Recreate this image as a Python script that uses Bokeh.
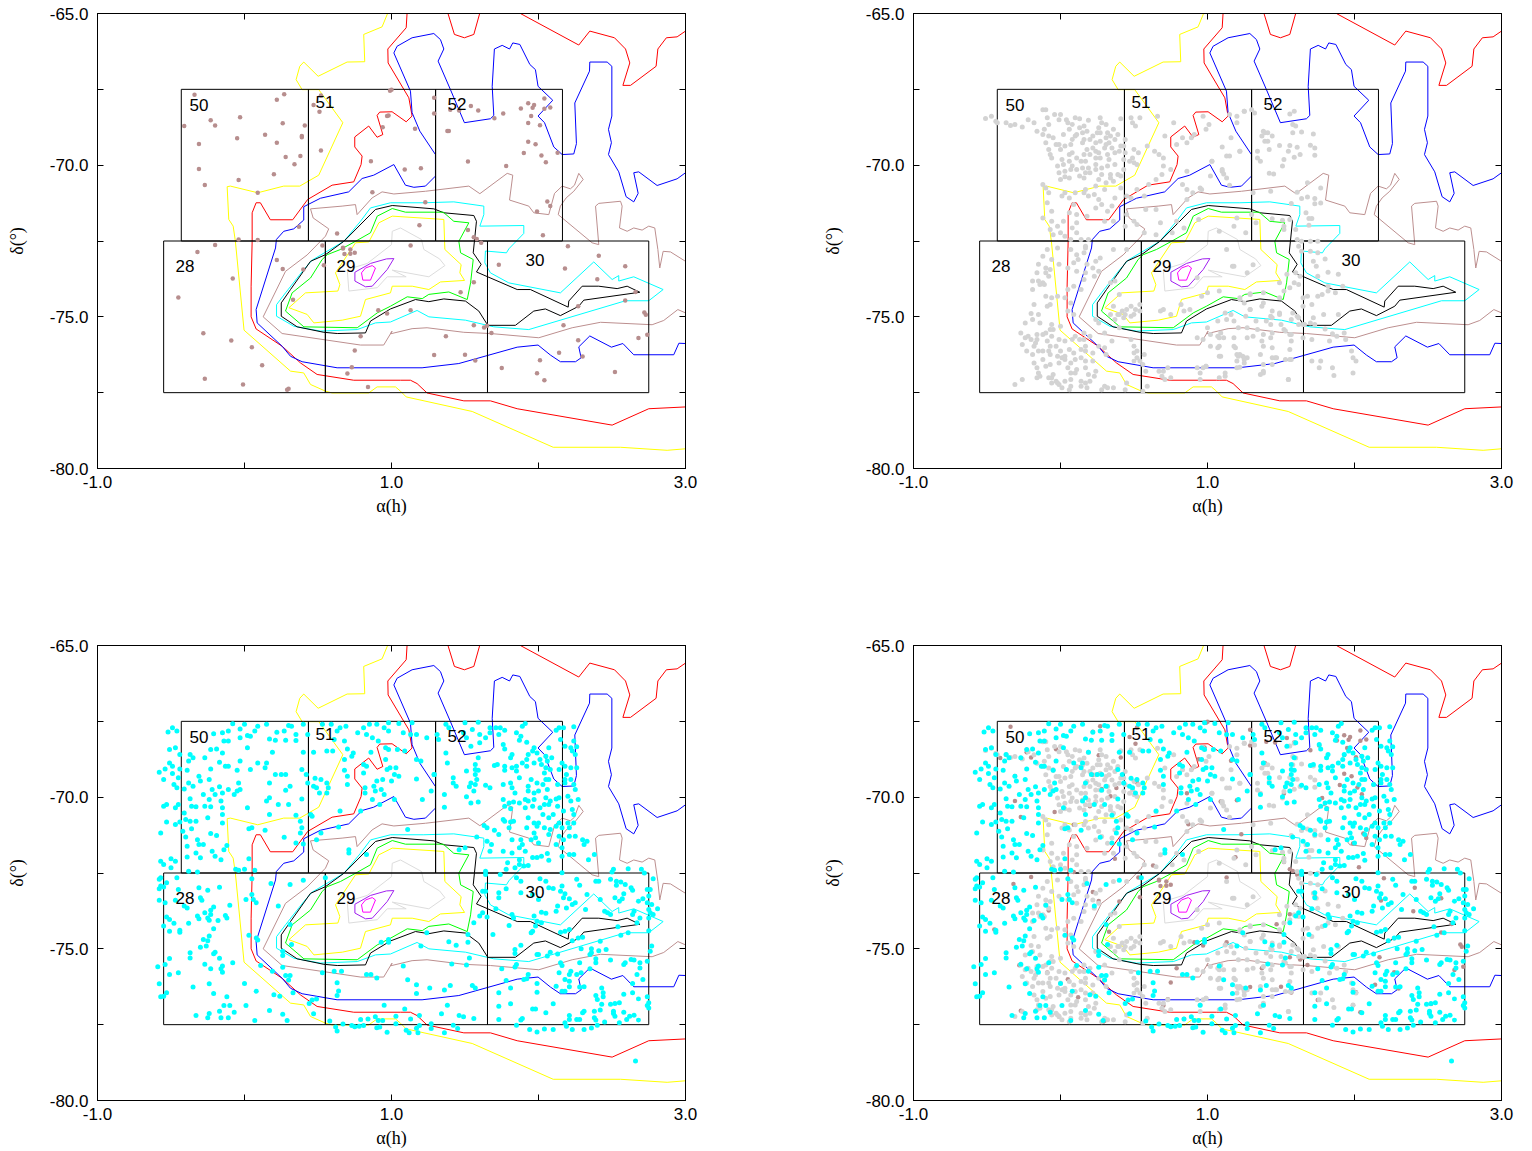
from bokeh.plotting import figure
from bokeh.layouts import column, row
from bokeh.models import Range1d, FixedTicker, LinearAxis, NumeralTickFormatter
from bokeh.core.properties import value
from bokeh.embed import file_html
from bokeh.resources import INLINE

# Contours (alpha hours, delta degrees)
yellow_outer = [(0.975,-64.98),(0.936,-65.44),(0.811,-65.69),(0.818,-66.59),(0.698,-66.60),(0.501,-67.07),(0.403,-66.60),(0.376,-66.74),(0.351,-67.18),(0.392,-67.51),(0.505,-67.51),(0.669,-68.60),(0.505,-70.33),(0.376,-70.69),(0.267,-70.69),(0.090,-70.91),(-0.096,-70.69),(-0.118,-70.71),(-0.107,-71.79),(-0.077,-72.01),(-0.062,-72.51),(-0.003,-75.44),(0.313,-76.79),(0.403,-76.85),(0.449,-77.23),(0.551,-77.45),(0.596,-77.51),(0.845,-77.51),(0.902,-77.31),(1.027,-77.31),(1.061,-77.45),(1.10,-77.64),(1.549,-78.12),(2.10,-79.30),(2.558,-79.30),(2.875,-79.40),(3.0,-79.35)]
red_main = [(1.106,-64.98),(1.10,-65.47),(0.975,-66.17),(0.977,-66.63),(1.118,-67.78),(1.140,-68.38),(1.10,-68.57),(1.004,-68.24),(0.92,-68.25),(0.902,-68.36),(0.941,-68.99),(0.902,-69.08),(0.845,-68.71),(0.750,-69.07),(0.750,-69.40),(0.80,-69.70),(0.793,-69.98),(0.743,-70.55),(0.596,-70.66),(0.430,-71.13),(0.328,-71.80),(0.176,-71.80),(0.108,-71.24),(0.079,-71.24),(0.052,-71.57),(0.052,-72.51),(0.045,-73.99),(0.045,-75.00),(0.079,-75.40),(0.256,-75.97),(0.381,-76.52),(0.494,-76.90),(0.743,-77.09),(1.061,-77.09),(1.129,-77.09),(1.174,-77.20),(1.242,-77.51),(1.492,-77.77),(1.673,-77.77),(1.855,-78.03),(2.501,-78.57),(2.750,-78.03),(3.0,-77.97)]
red_top_mid = [(1.383,-64.98),(1.428,-65.69),(1.496,-65.80),(1.560,-65.69),(1.601,-64.98)]
red_top_right = [(1.877,-65.0),(2.274,-66.04),(2.349,-65.58),(2.517,-65.80),(2.592,-66.17),(2.621,-66.63),(2.574,-67.37),(2.626,-67.37),(2.80,-66.74),(2.812,-66.17),(2.87,-65.80),(2.943,-65.77),(3.0,-65.58)]
blue_main = [(3.0,-75.88),(2.955,-75.87),(2.920,-76.25),(2.648,-76.25),(2.574,-75.88),(2.496,-76.0),(2.349,-75.63),(2.274,-75.99),(2.290,-76.35),(2.252,-76.48),(2.149,-76.48),(2.081,-76.26),(1.997,-75.93),(1.855,-76.0),(1.458,-76.54),(1.208,-76.68),(0.630,-76.68),(0.392,-76.48),(0.313,-76.30),(0.256,-75.97),(0.086,-75.20),(0.079,-74.76),(0.211,-72.73),(0.217,-72.45),(0.267,-72.18),(0.335,-72.10),(0.403,-71.81),(0.403,-71.37),(0.517,-71.09),(0.709,-70.88),(0.80,-70.44),(0.879,-70.33),(1.016,-69.98),(1.095,-70.66),(1.152,-70.73),(1.231,-70.69),(1.299,-70.36),(1.299,-69.65),(1.193,-68.88),(1.140,-68.27),(1.129,-67.56),(1.016,-66.30),(1.038,-66.08),(1.140,-65.80),(1.288,-65.66),(1.333,-65.86),(1.356,-66.17),(1.317,-66.57),(1.401,-67.51),(1.496,-68.60),(1.673,-68.47),(1.696,-68.36),(1.685,-67.40),(1.700,-66.17),(1.753,-66.05),(1.803,-66.17),(1.825,-65.97),(1.873,-66.02),(1.941,-66.68),(1.979,-66.85),(1.997,-67.40),(2.097,-67.86),(1.997,-68.38),(2.041,-68.60),(2.104,-69.40),(2.161,-69.65),(2.240,-69.63),(2.258,-69.29),(2.247,-67.95),(2.347,-66.90),(2.349,-66.60),(2.467,-66.60),(2.499,-66.74),(2.499,-68.38),(2.476,-68.82),(2.496,-69.26),(2.476,-69.65),(2.546,-70.22),(2.596,-71.04),(2.648,-71.21),(2.678,-70.93),(2.648,-70.25),(2.682,-70.22),(2.807,-70.67),(2.943,-70.45),(3.0,-70.25)]
brown_main = [(3.0,-74.87),(2.948,-74.76),(2.852,-75.12),(2.773,-75.26),(2.422,-75.18),(2.229,-75.36),(2.002,-75.69),(1.673,-75.55),(1.492,-75.51),(1.242,-75.36),(1.140,-75.39),(0.993,-75.56),(1.004,-75.47),(0.947,-75.93),(0.789,-75.93),(0.256,-75.55),(0.127,-75.0),(0.279,-73.50),(0.426,-72.96),(0.517,-72.51),(0.551,-72.34),(0.573,-72.10),(0.467,-71.74),(0.449,-71.44),(0.664,-71.35),(0.755,-71.30),(0.766,-71.63),(0.868,-71.08),(0.936,-70.88),(1.016,-70.95),(1.231,-70.86),(1.526,-70.69),(1.601,-70.94),(1.787,-70.27),(1.825,-70.33),(1.803,-71.15),(1.934,-71.35),(1.968,-71.57),(2.070,-71.63),(2.109,-70.93),(2.161,-70.69),(2.217,-70.78),(2.245,-70.66),(2.274,-70.27),(2.304,-70.47),(2.240,-70.86),(2.188,-71.08),(2.149,-71.35),(2.134,-71.63),(2.365,-72.56),(2.410,-72.62),(2.388,-71.35),(2.410,-71.26),(2.558,-71.19),(2.569,-71.35),(2.551,-72.07),(2.603,-72.18),(2.648,-72.07),(2.705,-72.14),(2.750,-72.01),(2.791,-72.07),(2.812,-72.78),(2.825,-73.39),(2.848,-72.84),(2.898,-72.86),(3.0,-73.17)]
cyan_main = [(0.218,-74.98),(0.218,-74.60),(0.279,-74.21),(0.404,-73.44),(0.460,-73.13),(0.676,-72.51),(0.789,-71.85),(0.857,-71.41),(0.993,-71.24),(1.220,-71.24),(1.424,-71.21),(1.628,-71.35),(1.628,-71.63),(1.601,-72.01),(1.900,-71.99),(1.900,-72.25),(1.798,-72.76),(1.782,-72.89),(1.639,-72.83),(1.635,-73.22),(1.673,-73.55),(1.798,-73.88),(2.149,-74.21),(2.376,-73.19),(2.501,-73.77),(2.546,-73.64),(2.546,-73.82),(2.648,-73.68),(2.848,-74.10),(2.750,-74.47),(2.592,-74.47),(1.934,-75.42),(1.696,-75.33),(1.503,-75.11),(1.254,-75.0),(1.174,-74.79),(0.993,-75.17),(0.891,-75.20),(0.767,-75.42),(0.517,-75.47),(0.336,-75.31),(0.218,-74.98)]
black_main = [(0.250,-74.98),(0.250,-74.54),(0.313,-74.10),(0.449,-73.17),(0.551,-72.95),(0.676,-72.51),(0.891,-71.46),(1.005,-71.33),(1.288,-71.44),(1.356,-71.57),(1.560,-71.66),(1.578,-71.85),(1.556,-72.89),(1.610,-73.27),(1.578,-73.52),(1.855,-74.10),(1.945,-74.10),(2.202,-74.68),(2.206,-74.48),(2.297,-73.99),(2.410,-73.99),(2.535,-74.07),(2.603,-73.99),(2.689,-74.19),(2.308,-74.45),(2.274,-74.65),(2.149,-74.96),(2.047,-74.74),(1.968,-74.81),(1.843,-75.28),(1.655,-75.28),(1.594,-74.81),(1.503,-74.48),(1.356,-74.41),(1.254,-74.50),(1.163,-74.43),(0.993,-74.74),(0.857,-75.14),(0.823,-75.53),(0.631,-75.55),(0.540,-75.51),(0.358,-75.33),(0.250,-74.98)]
green_main = [(0.279,-74.81),(0.324,-74.21),(0.449,-73.72),(0.528,-73.11),(0.563,-72.95),(0.653,-72.78),(0.755,-72.51),(0.857,-72.23),(0.903,-71.68),(1.005,-71.43),(1.095,-71.55),(1.352,-71.55),(1.424,-71.85),(1.526,-71.90),(1.458,-72.51),(1.470,-72.89),(1.556,-73.11),(1.538,-73.88),(1.515,-74.43),(1.390,-74.18),(1.254,-74.26),(1.209,-74.40),(1.107,-74.34),(0.993,-74.65),(0.903,-74.87),(0.767,-75.36),(0.404,-75.33),(0.279,-74.81)]
yellow_inner = [(0.302,-74.70),(0.415,-74.21),(0.635,-74.15),(0.649,-73.94),(0.619,-73.55),(0.755,-72.56),(0.846,-72.53),(0.914,-71.90),(1.005,-71.68),(1.356,-71.79),(1.363,-72.78),(1.474,-73.28),(1.465,-73.55),(1.497,-73.80),(1.333,-73.85),(1.254,-74.10),(1.141,-73.99),(1.005,-73.99),(0.993,-74.21),(0.823,-74.43),(0.789,-74.98),(0.665,-75.11),(0.472,-75.20),(0.426,-74.92),(0.302,-74.70)]
grey_inner = [(0.699,-73.44),(0.710,-74.15),(0.903,-74.04),(0.971,-73.68),(1.100,-73.68),(1.005,-73.46),(1.254,-73.68),(1.363,-73.31),(1.327,-73.09),(1.220,-72.78),(1.204,-72.45),(1.061,-72.07),(1.005,-72.18),(1.000,-72.62),(0.835,-73.24),(0.699,-73.44)]
purple_inner = [(0.751,-73.53),(0.751,-73.82),(0.823,-74.01),(0.869,-73.99),(0.971,-73.44),(1.016,-73.08),(0.966,-73.09),(0.857,-73.24),(0.751,-73.53)]
magenta_inner = [(0.796,-73.55),(0.805,-73.79),(0.857,-73.79),(0.891,-73.39),(0.869,-73.31),(0.823,-73.39),(0.796,-73.55)]

contours = [
    (yellow_outer,"#ffff00"),(red_main,"#ff0000"),(red_top_mid,"#ff0000"),(red_top_right,"#ff0000"),
    (blue_main,"#0000ff"),(brown_main,"#bc8f8f"),(cyan_main,"#00ffff"),(black_main,"#000000"),
    (green_main,"#00ff00"),(yellow_inner,"#ffff00"),(grey_inner,"#dcdcdc"),(purple_inner,"#a020f0"),(magenta_inner,"#ff00ff"),
]

# Survey fields
field_names = ["50","51","52","28","29","30"]
field_left = [-0.43,0.435,1.30,-0.55,0.55,1.653]
field_right = [0.435,1.30,2.163,0.55,1.653,2.75]
field_top = [-67.5,-67.5,-67.5,-72.5,-72.5,-72.5]
field_bottom = [-72.5,-72.5,-72.5,-77.5,-77.5,-77.5]
label_x = [-0.374,0.483,1.381,-0.469,0.626,1.912]
label_y = [-68.03,-67.93,-67.97,-73.31,-73.34,-73.14]

brown_pts = [(-.34,-67.68),(.27,-67.66),(.22,-67.84),(.52,-67.70),(.47,-68.02),(.51,-68.24),(-.03,-68.42),(-.23,-68.52),(-.20,-68.69),(-.41,-68.71),(.26,-68.62),(.41,-68.69),(.14,-69.00),(.39,-69.04),(.39,-69.08),(-.05,-69.11),(.22,-69.26),(-.31,-69.30),(.52,-69.52),(.28,-69.73),(.38,-69.70),(.34,-69.97),(-.31,-70.13),(.20,-70.30),(-.04,-70.49),(-.27,-70.65),(.09,-70.91),(.86,-69.87),(.87,-70.89),(.94,-68.75),(.98,-68.36),(.97,-68.38),(1.00,-67.51),(.99,-67.55),(.37,-72.03),(.63,-72.25),(-.04,-72.45),(.09,-72.47),(-.20,-72.63),(.53,-72.65),(.67,-72.72),
(1.29,-67.78),(1.29,-68.30),(1.16,-68.80),(1.09,-70.14),(1.20,-70.10),(1.38,-68.87),(1.39,-68.87),(1.54,-68.05),(1.59,-68.20),(1.46,-68.20),(1.40,-68.17),(1.70,-68.45),(1.76,-68.30),(1.88,-68.13),(1.93,-67.96),(1.97,-68.02),(1.96,-68.11),(2.04,-68.14),(2.08,-68.10),(2.04,-67.80),(1.95,-68.38),(1.93,-68.61),(2.01,-68.68),(1.93,-69.23),(1.98,-69.31),(1.90,-69.60),(2.02,-69.68),(2.05,-69.90),(2.13,-69.59),(1.52,-69.88),(1.78,-70.03),(2.06,-71.20),(2.08,-71.35),(1.99,-71.53),(1.23,-71.22),(1.19,-71.98),(1.52,-72.14),(1.56,-72.38),(1.58,-72.43),(1.61,-72.56),(2.03,-72.31),(1.13,-72.65),(2.20,-72.67),
(-.32,-72.86),(.22,-73.13),(.26,-73.42),(.40,-73.44),(-.08,-73.74),(-.45,-74.36),(.33,-74.44),(-.28,-75.54),(-.09,-75.78),(.05,-76.00),(.12,-76.60),(-.27,-77.04),(-.01,-77.23),(.29,-77.40),(.30,-77.37),(.67,-72.75),(.72,-72.78),(.75,-72.89),(.72,-72.92),(.68,-72.93),(.54,-73.30),(.79,-75.64),(.75,-76.11),(.73,-76.66),(.70,-76.87),(.84,-77.31),(.91,-74.78),(.97,-74.89),
(2.41,-72.99),(1.73,-73.28),(2.18,-73.41),(2.59,-73.33),(2.40,-73.76),(2.66,-74.18),(2.59,-74.46),(2.27,-74.65),(2.72,-74.86),(2.73,-74.93),(1.56,-73.86),(1.47,-74.19),(1.13,-74.78),(1.56,-75.28),(1.63,-75.35),(1.65,-75.29),(1.68,-75.53),(2.17,-75.28),(1.37,-75.64),(2.27,-75.77),(2.68,-75.70),(2.74,-75.59),(1.29,-76.26),(1.50,-76.25),(1.57,-76.44),(2.14,-76.18),(2.30,-76.31),(2.01,-76.43),(1.75,-76.69),(2.52,-76.82),(1.99,-76.86),(2.04,-77.09)]

grey_pts = [(-.51,-68.46),(-.47,-68.39),(-.44,-68.55),(-.43,-68.60),(-.37,-68.60),(-.34,-68.69),(-.31,-68.66),(-.26,-68.74),(-.22,-68.50),(-.18,-68.60),(-.12,-68.17),(-.10,-68.17),(-.09,-68.44),(-.08,-68.66),(-.11,-68.82),(-.04,-68.33),(0,-68.33),(-.01,-68.50),(.04,-68.50),(.05,-68.60),(-.16,-68.88),(-.12,-68.99),(-.08,-69.04),(-.05,-69.10),(.10,-68.44),(.13,-68.47),(.19,-68.52),(.16,-68.71),(.13,-68.77),(.11,-68.99),(.15,-68.93),(.18,-68.88),(.27,-68.44),(.28,-68.60),(.26,-68.77),(.31,-68.66),(.27,-68.93),(.41,-68.47),(.48,-68.44),(.54,-68.44),(.49,-68.60),(.51,-68.71),(.36,-68.82),(.39,-68.99),(.20,-69.15),(.24,-69.26),(.07,-69.32),(.10,-69.04),(.15,-69.26),(.27,-69.21),(.31,-69.32),(.33,-69.26),(.44,-69.15),(.43,-69.37),(.44,-69.59),(.50,-69.48),(.53,-69.59),(.49,-69.76),(.50,-69.92),(.52,-69.98),(.66,-68.39),(.77,-68.60),(.71,-69.04),(.83,-69.10),(.86,-69.26),(.89,-69.10),(.79,-69.32),(.91,-68.99),(.64,-69.54),(.67,-69.65),(.70,-69.76),(.59,-69.37),(-.08,-69.48),(-.07,-69.65),(-.06,-69.76),(-.01,-69.32),(0,-69.48),(.01,-69.81),(.03,-69.37),(.06,-69.65),(.11,-69.76),(.14,-69.87),(.18,-69.48),(.22,-69.43),(.24,-69.54),(.26,-69.59),(.24,-69.76),(.27,-69.76),(.33,-69.81),(.37,-69.59),(.32,-69.65),(.17,-69.87),(.08,-70.03),(.11,-70.14),(.07,-70.14),(.03,-70.20),(-.01,-70.25),(.03,-70.38),(0,-70.47),(.06,-70.42),(.24,-69.98),(.19,-70.09),(.17,-70.25),(.16,-70.42),(.13,-70.36),(.24,-70.14),(.28,-70.09),(.32,-70.03),(.34,-70.31),(.34,-70.42),(.36,-70.53),(.43,-70.14),(.41,-70.36),(.31,-70.58),(.26,-70.47),(.70,-70.03),(.75,-70.14),(.60,-70.64),(.69,-70.31),(.65,-70.47),(.86,-70.20),(.83,-70.64),(.86,-70.80),(.90,-70.91),(.95,-70.75),(1.03,-69.87),(1.15,-69.70),(1.22,-69.54),(1.10,-70.20),(1.02,-70.36),(1.13,-70.42),(1.32,-68.28),(1.25,-68.22),(1.15,-68.33),(1.20,-68.60),(1.39,-68.93),(1.41,-69.21),(1.34,-69.54),(.03,-70.91),(.01,-71.02),(.06,-71.08),(.10,-70.91),(.17,-70.80),(.19,-71.02),(.23,-70.97),(.26,-71.13),(.28,-71.30),(.24,-71.41),(.32,-71.52),(.35,-71.35),(.37,-71.08),(.48,-71.08),(.58,-71.46),(.45,-71.63),(.50,-71.85),(.65,-71.46),(.68,-71.90),(.86,-71.13),(.79,-71.85),(.84,-72.07),(.76,-72.23),(.57,-72.23),(.52,-71.96),(.65,-72.29),(-.12,-70.64),(-.12,-71.74),(-.07,-72.12),(-.05,-72.29),(0,-72.23),(-.06,-71.85),(.11,-71.90),(.08,-72.07),(.03,-72.34),(.07,-72.45),(.14,-72.45),(.19,-72.45),(.17,-72.67),(.11,-72.23),(1.18,-72.01),(1.08,-72.18),(.94,-71.79),(1.26,-72.23),(1.30,-71.63),
(-.09,-72.78),(-.12,-73.0),(-.15,-73.27),(-.06,-73.11),(-.10,-73.55),(-.08,-73.66),(-.15,-73.82),(-.12,-73.88),(-.19,-74.10),(-.11,-73.93),(-.06,-74.37),(-.07,-74.59),(-.09,-74.65),(-.20,-74.89),(-.19,-75.09),(-.24,-75.20),(-.05,-75.42),(-.10,-75.53),(-.16,-75.58),(-.12,-75.58),(-.27,-75.53),(-.24,-75.69),(-.20,-75.75),(-.26,-75.91),(-.17,-75.86),(-.09,-75.80),(-.19,-76.24),(-.12,-76.13),(-.08,-76.13),(0,-76.13),(.02,-76.35),(-.18,-76.52),(-.07,-76.57),(-.01,-76.52),(-.15,-76.85),(-.16,-77.01),(-.06,-77.01),(-.26,-77.07),(-.31,-77.23),(-.06,-77.18),(-.01,-77.23),(-.03,-77.12),(.06,-77.40),(.14,-77.12),(.17,-77.18),(.20,-77.12),(.07,-76.85),(.10,-76.85),(.24,-76.79),(.28,-77.40),(.32,-77.34),(.36,-77.34),(.44,-77.40),(.03,-76.30),(.09,-76.19),(.17,-76.13),(.22,-76.46),(.26,-75.97),(.30,-76.02),(.16,-75.75),(-.01,-73.27),(.07,-72.78),(.11,-72.95),(.12,-73.11),(.16,-72.89),(.24,-73.17),(.26,-73.50),(.27,-73.06),(.11,-73.50),(.17,-73.55),(.05,-74.10),(.05,-74.81),(.09,-74.92),(.17,-72.73),(-.02,-72.73),(.36,-72.78),(.45,-72.78),(.37,-73.82),(.34,-73.88),(.40,-74.26),(.36,-74.65),(.39,-74.92),(.43,-75.03),(.48,-74.65),(.51,-74.76),(.54,-74.59),(.44,-74.92),(.24,-75.09),(.26,-75.20),(.40,-75.36),(.50,-76.19),(.52,-76.35),(.56,-76.57),(.50,-76.46),(.70,-74.76),(.68,-74.81),(.82,-74.59),(.84,-74.81),(.88,-74.76),(.75,-74.92),(.93,-73.71),(.96,-74.32),(1.0,-74.21),(1.08,-74.15),(1.18,-73.33),(1.27,-73.55),(1.22,-74.43),(1.29,-74.26),(1.38,-74.54),(1.43,-74.98),(1.49,-74.92),(1.40,-75.14),(1.29,-74.76),(1.16,-74.92),(1.13,-75.09),(1.21,-75.36),(1.08,-75.69),(.93,-75.69),(1.02,-75.58),(1.27,-75.69),(1.08,-76.30),(1.20,-76.24),(1.24,-76.30),(1.18,-75.97),(1.27,-76.35),(1.20,-76.46),(1.44,-76.02),(1.46,-76.35),(1.57,-76.41),(.99,-76.63),(.73,-76.68),(.95,-77.07),(.71,-77.07),(.69,-76.96),(1.08,-77.01),(1.12,-76.96),(1.55,-77.07),(1.38,-76.85),(1.36,-76.90),(.59,-77.29),(.56,-77.45),(.45,-77.18),(1.38,-75.58),(1.44,-75.53),(1.53,-75.47),(1.66,-75.25),(1.57,-75.58),(.93,-76.68),
(1.30,-68.17),(1.25,-68.22),(1.20,-68.39),(.97,-68.39),(1.01,-68.66),(.99,-68.82),(1.38,-68.88),(1.41,-68.93),(1.37,-69.04),(1.44,-69.04),(1.39,-69.21),(1.42,-69.48),(1.49,-69.35),(1.56,-69.35),(1.61,-69.41),(1.70,-69.34),(1.73,-69.43),(1.55,-69.54),(1.59,-69.74),(1.63,-69.65),(1.73,-69.67),(1.34,-69.76),(1.36,-69.87),(1.52,-69.81),(1.51,-70.03),(1.42,-70.27),(1.45,-70.29),(1.59,-68.22),(1.56,-68.31),(1.58,-68.66),(1.60,-68.71),(1.58,-68.93),(1.64,-68.91),(1.72,-68.97),(1.16,-69.10),(1.10,-69.40),(1.22,-69.54),(1.13,-69.70),(1.03,-69.87),(1.10,-70.14),(1.11,-70.29),(1.15,-70.66),(.96,-70.80),(1.31,-70.91),(1.43,-70.86),(1.61,-70.89),(1.68,-70.58),(1.77,-70.75),(1.64,-71.10),(1.68,-71.05),(1.73,-71.10),(1.73,-71.27),(1.77,-71.25),(1.57,-71.26),(1.67,-71.57),(1.69,-71.76),(1.71,-71.76),(1.69,-71.98),(1.56,-71.79),(1.51,-71.82),(1.52,-72.01),(1.44,-71.77),(1.33,-71.90),(1.20,-71.74),(1.52,-72.12),(1.60,-72.12),(1.61,-72.45),(1.64,-72.51),(1.62,-72.67),(1.64,-72.84),(1.70,-72.51),(1.75,-72.51),(1.70,-72.84),(1.75,-72.89),(1.80,-73.09),(1.72,-73.17),(1.74,-73.33),(1.82,-73.53),(1.89,-73.60),(1.75,-73.66),(1.54,-73.60),(1.60,-73.55),(1.63,-73.66),(1.59,-73.88),(1.62,-73.93),(1.56,-74.04),(1.52,-74.15),(1.68,-74.32),(1.75,-74.32),(1.78,-74.26),(1.82,-74.15),(1.87,-74.21),(1.92,-73.99),(1.82,-73.99),(1.49,-73.88),(1.31,-73.28),(1.17,-73.33),(1.13,-72.78),(1.65,-74.37),(1.65,-74.65),(1.71,-74.59),(1.79,-74.92),(1.72,-75.03),(1.89,-74.92),(1.65,-75.25),(1.70,-75.20),(1.73,-75.25),(1.80,-75.40),(1.85,-75.56),(1.93,-75.53),(1.94,-75.75),(1.88,-75.64),(1.83,-75.80),(1.49,-74.37),(1.38,-74.21),(1.29,-74.24),(1.22,-74.37),(1.25,-74.54),(1.37,-74.65),(1.44,-74.81),(1.49,-74.87),(1.58,-74.87),(1.61,-74.98),(1.29,-74.76),(1.26,-74.98),(1.18,-75.14),(1.12,-74.87),(1.07,-75.14),(1.00,-75.36),(1.33,-75.14),(1.44,-75.03),(1.56,-75.58),(1.52,-75.42),(1.37,-75.80),(1.31,-75.64),(1.18,-75.69),(1.07,-75.64),(1.08,-75.97),(1.19,-76.02),(1.21,-76.30),(1.25,-76.35),(1.25,-76.52),(1.09,-76.30),(1.22,-76.66),(.99,-76.63),(1.12,-76.85),(1.38,-76.79),(1.44,-76.57),(1.44,-76.35),(1.47,-76.35),(1.56,-76.41),(1.53,-76.41),(1.56,-76.08),(1.55,-77.07),(1.71,-76.46),(1.77,-76.46),(1.76,-76.68),(1.85,-76.68),(1.86,-76.93),(1.99,-76.85),(1.99,-76.35),(2.01,-76.46),(1.98,-76.13),(1.65,-75.69),(1.71,-75.75)]

grey_pts_lower = [(-.15,-76.13),(-.07,-76.24),(-.22,-75.64),(-.16,-75.75),(-.23,-76.13),(-.18,-75.97),(-.07,-75.97),(-.02,-76.30),(.01,-76.35),(.03,-76.41),(-.12,-76.41),(-.10,-76.63),(-.16,-76.68),(-.14,-76.96),(-.08,-77.01),(-.05,-76.90),(-.02,-77.18),(.01,-77.34),(.07,-77.29),(.14,-77.29),(.18,-77.34),(.23,-76.96),(.30,-77.29),(.31,-76.24),(.22,-76.19),(.17,-76.46),(.14,-76.35),(.10,-76.41),(.07,-76.52),(.05,-76.68),(.11,-76.74),(.17,-76.68),(.19,-76.90),(.07,-77.07),(.03,-77.12),(-.06,-75.25),(-.07,-75.42),(0,-75.31),(-.06,-75.64),(-.01,-75.75),(.03,-75.80),(.08,-75.75),(.13,-75.75),(.10,-75.64),(.16,-75.53),(.20,-75.64),(.17,-75.97),(.14,-76.08),(.06,-76.08),(-.03,-75.97),(-.19,-73.82),(-.14,-73.93),(-.16,-73.55),(-.07,-73.44),(-.10,-73.39),(.05,-73.39),(.09,-73.22),(.18,-73.27),(.22,-73.39),(.23,-73.66),(.16,-73.77),(.09,-73.99),(.14,-74.10),(.03,-74.37),(.07,-74.54),(-.02,-74.32),(-.10,-74.32),(-.15,-74.92),(-.14,-75.20),(-.18,-74.59),(.54,-74.81),(.50,-74.92),(.42,-74.81),(.45,-74.76),(.40,-74.92),(.34,-74.92),(.37,-75.09),(.48,-74.98),(.30,-75.53),(.35,-75.80),(.48,-75.75),(.50,-75.97),(.52,-76.13),(.57,-76.24),(.54,-76.46),(.58,-76.79),(.67,-76.79),(.70,-76.79),(.75,-77.01),(.97,-76.68),(.95,-76.85),(1.20,-76.68),(1.25,-76.41),(1.22,-76.24),(1.07,-76.02),(1.02,-75.97),(.97,-75.75),(1.09,-75.53),(1.11,-75.69),(1.27,-75.36),(1.34,-75.42),(1.43,-75.25),(1.50,-75.25),(1.57,-75.09),(1.62,-75.03),(1.62,-75.25),(1.57,-75.80),(1.43,-75.69),(1.38,-75.97),(1.36,-76.24),(1.38,-76.57)]
grey_pts_upper = [(-.10,-69.26),(-.03,-69.32),(.08,-69.15),(.02,-68.99),(.06,-68.82),(.08,-68.66),(.16,-69.15),(.22,-69.04),(.25,-68.93),(.32,-68.93),(.34,-69.04),(.31,-69.10),(.37,-69.15),(.41,-69.37),(.40,-69.54),(.35,-69.43),(.30,-69.43),(.20,-69.65),(.16,-69.65),(.08,-69.59),(.02,-69.98),(-.02,-70.03),(.06,-69.87),(.15,-70.09),(.20,-70.25),(.28,-70.31),(.39,-70.31),(.37,-69.98),(.43,-69.81),(.47,-69.87),(.41,-70.75),(.45,-71.02),(.52,-70.80),(.57,-71.02),(.30,-70.80),(.24,-70.69),(.16,-70.91),(.09,-71.30),(.06,-71.57),(.11,-71.63),(.18,-71.68),(.30,-71.85),(.36,-71.85),(.44,-72.01),(.02,-71.85),(-.02,-72.01),(-.10,-70.75),(-.08,-70.91),(-.06,-71.52),(-.09,-71.24)]

cyan_pts = [(-.52,-67.85),(-.49,-67.71),(-.46,-67.82),(-.21,-67.91),(-.15,-67.88),(-.11,-67.82),(-.08,-67.58),(-.03,-67.75),(0,-67.60),(.02,-67.97),(.07,-67.82),(.09,-67.66),(.15,-67.60),(.22,-67.86),(.27,-67.82),(.30,-67.64),(.32,-67.66),(.40,-67.60),(.35,-67.93),(.43,-67.93),(-.11,-68.15),(-.03,-68.04),(.04,-67.99),(.17,-68.08),(.21,-68.12),(.28,-68.12),(.35,-68.13),(-.14,-68.15),(.53,-67.60),(.59,-67.60),(.65,-67.71),(.69,-67.66),(.63,-67.82),(.61,-68.10),(.68,-68.15),(.77,-67.88),(.81,-67.71),(.85,-67.60),(.90,-67.60),(.98,-67.55),(1.05,-67.57),(.95,-67.71),(.98,-67.82),(.83,-67.93),(.87,-68.04),(.91,-68.15),(1.08,-67.88),(1.13,-67.93),(1.17,-67.93),(1.14,-67.55),(1.24,-68.04),(.74,-68.54),(.70,-68.41),(.60,-68.48),(.56,-68.48),(.47,-68.52),(.68,-68.76),(.73,-68.65),(.86,-68.52),(.96,-68.37),(.98,-68.43),(1.04,-68.43),(1.09,-68.48),(1.17,-68.76),(1.20,-68.81),(.96,-68.76),(.81,-68.92),(.83,-68.98),(.97,-69.09),(.99,-69.03),(1.03,-69.03),(.68,-69.11),(.70,-69.31),(.81,-69.20),(1.02,-69.25),(1.05,-69.31),(1.17,-69.40),(.90,-69.47),(.94,-69.42),(1.00,-69.47),(1.29,-69.25),(.70,-69.58),(.82,-69.69),(.88,-69.64),(.89,-69.80),(.93,-69.75),(1.27,-69.80),(.82,-69.86),(.87,-70.08),(.95,-69.91),(1.02,-70.08),(1.21,-70.08),(.92,-70.24),(.79,-70.46),(.65,-70.46),(.48,-69.38),(.52,-69.42),(.56,-69.53),(.47,-69.64),(.49,-69.69),(.51,-69.86),(.57,-69.69),(.56,-69.86),(.43,-69.53),(.42,-69.25),(.39,-69.09),(.40,-68.52),(.19,-68.52),(.02,-68.37),(-.23,-68.43),(-.19,-68.41),(-.15,-68.54),(-.37,-68.59),(-.35,-68.70),(-.44,-68.59),(-.47,-68.37),(-.51,-68.43),(-.27,-68.70),(-.17,-68.85),(-.23,-69.07),(-.13,-68.98),(-.11,-68.98),(-.03,-68.81),(.09,-68.87),(.15,-68.87),(.14,-69.03),(.04,-69.09),(-.05,-69.11),(-.38,-68.81),(-.51,-68.87),(-.49,-68.98),(-.44,-69.07),(-.39,-69.11),(-.54,-69.07),(-.58,-69.18),(-.55,-69.42),(-.49,-69.22),(-.45,-69.36),(-.31,-69.31),(-.24,-69.42),(-.30,-69.47),(-.48,-69.58),(-.46,-69.69),(-.41,-69.73),(-.38,-69.53),(-.35,-69.64),(-.22,-69.75),(-.17,-69.66),(-.11,-69.75),(-.28,-69.91),(-.20,-69.91),(-.15,-69.86),(-.05,-69.80),(-.03,-69.75),(-.07,-69.91),(-.04,-69.53),(.17,-69.53),(.21,-69.25),(.28,-69.25),(.25,-69.25),(.28,-69.77),(.31,-69.64),(.17,-70.02),(.15,-70.13),(.23,-70.24),(.30,-70.24),(.39,-70.06),(-.24,-70.08),(-.16,-70.13),(-.27,-70.30),(-.23,-70.32),(-.15,-70.35),(-.37,-70.05),(-.36,-70.30),(-.33,-70.32),(-.45,-70.24),(-.55,-70.30),(-.53,-70.24),(-.47,-70.35),(.02,-70.35),(-.25,-70.68),(-.41,-70.52),(-.15,-70.57),(.17,-70.57),(-.40,-70.74),(-.37,-70.79),(-.33,-70.79),(-.53,-70.82),(-.44,-70.82),(-.47,-70.90),(-.15,-70.85),(.35,-70.60),(.45,-70.57),(.46,-70.63),(.38,-70.79),(.03,-71.04),(.05,-71.01),(.14,-71.09),(.39,-71.01),(-.36,-71.04),(-.42,-71.12),(-.57,-71.18),(-.23,-71.20),(-.19,-71.26),(-.40,-71.31),(-.32,-71.40),(.27,-71.32),(.38,-71.18),(.40,-71.54),(.35,-71.51),(-.39,-71.62),(-.31,-71.56),(-.28,-71.56),(-.12,-71.59),(-.14,-71.73),(-.33,-71.84),(-.22,-71.78),(-.39,-71.97),(-.30,-72.00),(-.20,-71.95),(-.16,-72.06),(-.57,-72.11),(-.50,-72.03),(-.47,-72.11),(-.55,-72.22),(-.50,-72.33),(.03,-72.03),(-.38,-72.44),(-.32,-72.47),(-.06,-72.38),(-.04,-72.41),(0,-72.38),(.07,-72.41),(.71,-71.73),(.71,-71.84),(.49,-71.40),(.52,-71.18),(.64,-70.98),(.83,-71.89),(1.11,-71.07),
(1.31,-67.93),(1.32,-68.10),(1.37,-67.60),(1.39,-67.71),(1.50,-67.55),(1.59,-67.53),(1.55,-67.77),(1.49,-67.88),(1.51,-68.04),(1.54,-68.32),(1.60,-67.93),(1.64,-68.04),(1.60,-68.21),(1.67,-67.71),(1.67,-67.88),(1.71,-67.71),(1.74,-67.71),(1.73,-67.93),(1.77,-67.79),(1.85,-67.88),(1.88,-67.99),(1.87,-68.12),(1.89,-67.66),(1.91,-67.57),(1.92,-68.19),(1.76,-68.26),(1.77,-68.41),(1.97,-68.37),(1.96,-68.48),(1.93,-68.59),(1.92,-68.76),(1.99,-68.54),(2.01,-68.76),(2.05,-68.65),(2.06,-68.81),(2.07,-68.37),(2.09,-68.70),(2.14,-67.71),(2.12,-67.79),(2.17,-67.71),(2.24,-67.68),(2.15,-68.10),(2.18,-68.32),(2.22,-68.37),(2.24,-68.15),(2.23,-68.48),(2.26,-68.34),(2.25,-68.59),(1.37,-68.54),(1.38,-68.87),(1.59,-68.70),(1.57,-68.92),(1.51,-69.14),(1.57,-69.09),(1.59,-69.11),(1.57,-69.25),(1.70,-68.96),(1.72,-68.92),(1.77,-68.98),(1.77,-69.11),(1.82,-68.59),(1.81,-68.70),(1.82,-69.03),(1.85,-68.98),(1.85,-69.14),(1.89,-68.87),(1.92,-68.98),(1.97,-68.87),(2.02,-68.92),(2.05,-69.03),(2.04,-69.20),(2.08,-69.09),(2.14,-69.09),(2.16,-68.87),(2.18,-68.98),(2.22,-69.03),(2.26,-69.03),(2.19,-69.25),(2.18,-69.42),(2.22,-69.42),(2.18,-69.53),(2.24,-69.58),(2.25,-69.75),(1.29,-69.25),(1.42,-69.36),(1.42,-69.53),(1.44,-69.64),(1.54,-69.53),(1.58,-69.42),(1.57,-69.58),(1.53,-69.66),(1.64,-69.61),(1.67,-69.69),(1.56,-69.80),(1.51,-69.99),(1.36,-69.91),(1.54,-70.19),(1.59,-70.16),(1.36,-70.33),(1.76,-69.58),(1.81,-69.53),(1.82,-69.69),(1.84,-69.86),(1.87,-69.36),(1.95,-69.42),(1.93,-69.64),(1.99,-69.53),(2.05,-69.42),(2.07,-69.42),(2.03,-69.58),(2.13,-69.58),(2.00,-69.80),(1.97,-69.86),(1.93,-69.80),(2.06,-69.75),(2.05,-70.02),(2.12,-70.06),(2.14,-70.02),(2.08,-70.13),(2.20,-69.97),(2.22,-70.13),(2.27,-70.08),(2.13,-70.30),(2.07,-70.24),(2.04,-70.24),(1.97,-70.08),(1.93,-70.13),(1.91,-70.08),(1.87,-70.19),(1.83,-70.16),(1.80,-70.19),(1.76,-70.08),(1.77,-70.30),(1.81,-70.38),(1.91,-70.35),(1.96,-70.30),(2.01,-70.35),(2.10,-70.57),(2.07,-70.68),(2.03,-70.57),(2.17,-70.46),(2.23,-70.41),(2.24,-70.57),(1.93,-70.68),(1.76,-70.74),(1.77,-70.79),(1.83,-70.79),(1.81,-70.82),(2.00,-70.85),(1.97,-70.85),(2.14,-70.85),(2.20,-70.85),(2.24,-70.85),(1.80,-71.01),(1.92,-71.01),(1.99,-70.96),(2.04,-71.01),(2.12,-70.96),(2.08,-71.07),(2.16,-71.01),(2.21,-71.01),(1.63,-70.93),(1.65,-71.01),(1.70,-71.09),(1.73,-71.23),(1.97,-71.18),(1.98,-71.34),(2.07,-71.23),(2.14,-71.29),(2.17,-71.40),(2.21,-71.29),(2.25,-71.29),(2.30,-71.40),(2.33,-71.45),(2.31,-71.56),(1.82,-71.40),(1.88,-71.40),(1.89,-71.56),(1.95,-71.40),(2.00,-71.51),(1.65,-71.45),(1.68,-71.56),(1.58,-71.31),(2.12,-71.56),(2.16,-71.67),(1.87,-71.67),(1.91,-71.78),(1.76,-71.78),(1.82,-71.84),(1.67,-71.78),(1.50,-71.67),(1.46,-71.73),(2.02,-71.95),(2.06,-71.86),(1.99,-71.99),(1.96,-71.99),(2.07,-72.08),(2.16,-71.95),(2.21,-71.89),(2.24,-71.89),(2.38,-71.89),(2.34,-72.06),(1.87,-72.06),(1.87,-72.22),(1.84,-72.33),(1.90,-72.27),(1.93,-72.25),(1.79,-72.16),(1.78,-72.38),(1.64,-72.44),(2.51,-72.38),(2.50,-72.47),(2.61,-72.36),(2.70,-72.38),(1.64,-72.55),(1.74,-72.55),(2.16,-72.49),
(-.58,-72.71),(-.57,-72.66),(-.57,-72.93),(-.58,-73.02),(-.55,-72.96),(-.53,-72.82),(-.45,-73.04),(-.46,-72.66),(-.31,-72.99),(-.25,-73.07),(-.17,-72.97),(-.58,-73.40),(-.54,-73.48),(-.47,-73.40),(-.30,-73.32),(-.41,-73.59),(-.39,-73.65),(-.29,-73.40),(-.21,-73.62),(-.23,-73.73),(-.27,-73.81),(-.23,-73.87),(-.32,-73.92),(-.31,-74.01),(-.25,-73.98),(-.24,-74.06),(-.18,-74.07),(-.13,-73.90),(-.12,-73.98),(-.10,-73.56),(-.53,-73.95),(-.51,-74.03),(-.48,-74.16),(-.38,-74.16),(-.55,-74.25),(-.21,-74.34),(-.51,-74.42),(-.44,-74.39),(-.44,-74.45),(-.24,-74.58),(-.28,-74.69),(-.25,-74.73),(-.26,-74.91),(-.30,-74.95),(-.37,-75.13),(-.20,-75.11),(-.21,-75.16),(-.37,-75.30),(-.17,-75.31),(-.51,-75.32),(-.08,-75.46),(-.27,-75.51),(-.54,-75.52),(-.59,-75.59),(-.15,-75.57),(-.23,-75.66),(-.16,-75.66),(-.15,-75.77),(-.45,-75.79),(-.51,-75.85),(-.24,-76.15),(-.58,-76.15),(-.35,-76.26),(0,-76.14),(.08,-76.40),(-.21,-76.47),(-.53,-76.45),(-.57,-76.58),(-.55,-76.56),(-.12,-76.58),(.20,-76.51),(.24,-76.56),(-.14,-76.87),(-.10,-76.87),(.01,-76.87),(.17,-77.03),(-.17,-77.06),(-.07,-77.09),(-.24,-77.13),(-.33,-77.20),(-.25,-77.27),(-.16,-77.27),(-.11,-77.27),(.26,-77.16),(.07,-77.36),(.29,-77.36),(.05,-72.69),(.18,-72.85),(.31,-72.88),(.40,-72.74),(.55,-72.66),(.05,-73.21),(.01,-73.37),(.06,-73.37),(.08,-73.48),(.23,-73.59),(.31,-74.20),(.03,-74.55),(.08,-74.64),(.09,-74.71),(.32,-74.86),(.26,-75.08),(.26,-75.22),(.11,-75.55),(.26,-75.61),(.19,-75.74),(.53,-75.79),(.28,-75.88),(.31,-75.88),(.30,-76.03),(.61,-75.74),(.66,-75.74),(.83,-75.85),(.86,-75.85),(.90,-75.96),(1.08,-75.57),(.93,-74.78),(.98,-74.69),(.98,-74.78),(1.24,-74.47),(1.20,-74.91),(1.11,-76.02),(1.17,-76.18),(1.26,-76.29),(1.17,-76.47),(.63,-76.12),(.64,-76.39),(.63,-76.54),(.33,-76.45),(.49,-76.65),(.46,-76.69),(.44,-76.80),(.95,-76.86),(1.09,-76.98),(.47,-77.14),(1.19,-77.20),(1.03,-77.22),(.89,-77.24),(.84,-77.31),(.79,-77.33),(.91,-77.36),(.94,-77.36),(1.13,-77.31),(.58,-77.38),(.67,-77.48),(.73,-77.53),(.75,-77.57),(.78,-77.55),(.81,-77.53),(.90,-77.60),(.92,-77.58),(1.03,-77.47),(1.19,-77.53),(1.17,-77.62),(1.10,-77.68),(1.12,-77.77),(1.18,-77.77),(.97,-77.75),(.62,-77.58),(.63,-77.71),(1.27,-77.47),(1.27,-77.63),
(1.85,-72.66),(1.88,-72.77),(2.01,-72.69),(2.05,-72.77),(2.07,-72.99),(2.10,-73.01),(2.16,-72.93),(2.15,-73.10),(2.18,-73.18),(2.17,-73.32),(2.21,-73.35),(2.26,-72.71),(2.28,-72.90),(2.33,-73.21),(2.39,-72.77),(2.41,-72.77),(2.49,-72.71),(2.53,-72.77),(2.56,-72.80),(2.53,-72.90),(2.59,-72.88),(2.63,-72.99),(2.64,-73.07),(2.58,-73.18),(2.57,-73.35),(2.52,-73.32),(2.55,-73.43),(2.42,-73.37),(2.68,-73.43),(2.71,-73.35),(2.74,-73.04),(2.76,-73.04),(2.75,-73.26),(2.78,-72.69),(2.72,-72.50),(2.74,-73.48),(2.77,-73.54),(2.75,-73.70),(2.81,-73.68),(2.76,-73.81),(2.78,-73.87),(2.75,-73.98),(2.65,-73.76),(2.64,-73.87),(2.69,-73.98),(2.67,-74.14),(2.47,-73.81),(2.49,-73.87),(2.45,-73.76),(2.25,-73.48),(2.23,-73.54),(2.32,-73.70),(2.13,-73.59),(2.12,-73.76),(2.19,-73.65),(2.02,-73.79),(2.05,-73.83),(1.96,-73.21),(1.88,-73.15),(1.78,-73.02),(1.73,-73.15),(1.73,-73.32),(1.62,-73.10),(1.64,-73.10),(2.00,-73.37),(1.71,-73.68),(1.82,-73.87),(1.83,-73.98),(1.65,-73.95),(1.62,-73.81),(1.60,-73.92),(1.56,-74.14),(1.97,-73.92),(1.99,-74.09),(2.02,-74.14),(1.98,-74.25),(1.96,-74.42),(1.95,-74.47),(1.80,-74.23),(1.52,-74.53),(1.69,-74.53),(2.15,-74.45),(2.18,-74.42),(2.21,-74.36),(2.23,-74.73),(2.27,-74.64),(2.30,-74.62),(2.42,-74.75),(2.56,-74.55),(2.61,-74.47),(2.54,-74.27),(2.75,-74.40),(1.39,-74.77),(1.44,-74.88),(1.52,-74.78),(1.88,-74.88),(1.84,-75.02),(1.84,-75.15),(2.08,-75.11),(2.06,-75.24),(1.99,-75.19),(2.00,-75.19),(2.13,-75.17),(2.29,-75.00),(2.36,-75.00),(2.36,-75.13),(2.35,-75.19),(2.41,-75.06),(2.46,-75.02),(2.77,-74.91),(2.76,-75.08),(1.53,-75.30),(1.41,-75.50),(1.51,-75.53),(1.85,-75.52),(1.84,-75.60),(2.15,-75.46),(2.16,-75.55),(2.28,-75.46),(2.49,-75.37),(2.39,-75.33),(2.39,-75.46),(2.59,-75.46),(2.58,-75.52),(2.63,-75.35),(2.65,-75.37),(2.69,-75.46),(2.69,-75.63),(2.74,-75.41),(2.35,-75.66),(1.75,-75.66),(2.22,-75.74),(2.21,-75.85),(2.26,-75.85),(2.29,-75.79),(2.14,-75.79),(2.67,-75.85),(2.71,-76.01),(1.78,-76.04),(1.90,-76.01),(1.92,-75.99),(1.93,-75.85),(1.99,-76.14),(2.18,-76.01),(2.21,-76.07),(2.28,-76.26),(2.31,-76.25),(2.64,-76.14),(1.55,-76.21),(1.57,-76.29),(1.40,-76.21),(1.81,-76.29),(2.12,-76.23),(2.21,-76.25),(2.43,-76.29),(1.36,-76.36),(2.18,-76.40),(2.16,-76.40),(2.44,-76.45),(2.64,-76.45),(1.73,-76.45),(1.99,-76.43),(2.44,-76.58),(2.39,-76.54),(2.58,-76.50),(2.74,-76.58),(2.68,-76.65),(2.40,-76.67),(2.43,-76.83),(2.10,-76.81),(1.81,-76.81),(1.73,-76.89),(1.38,-76.86),(2.49,-76.83),(2.52,-76.80),(2.55,-76.78),(2.58,-77.09),(2.75,-76.78),(2.74,-76.87),(2.75,-76.95),(1.96,-76.98),(1.98,-76.98),(2.42,-77.02),(2.05,-77.11),(2.51,-77.06),(2.51,-77.13),(1.34,-77.14),(1.46,-77.20),(1.49,-77.24),(1.56,-77.30),(2.21,-77.20),(2.30,-77.11),(2.31,-77.06),(2.38,-77.06),(1.89,-77.30),(1.88,-77.35),(1.73,-77.33),(2.21,-77.33),(2.26,-77.33),(2.28,-77.33),(2.38,-77.27),(2.39,-77.35),(2.45,-77.41),(2.52,-77.22),(2.60,-77.33),(2.62,-77.22),(2.65,-77.19),(2.68,-77.35),(2.55,-77.44),(2.18,-77.44),(1.85,-77.52),(1.42,-77.52),(1.45,-77.63),(2.19,-77.55),(2.23,-77.66),(2.31,-77.66),(2.36,-77.61),(2.40,-77.52),(1.94,-77.66),(1.99,-77.74),(2.04,-77.64),(2.10,-77.66),(1.36,-77.77),(2.66,-78.70)]

x_major = [-1, 1, 3]
x_minor = [0, 2]
y_major = [-65, -70, -75, -80]
y_minor = [-67.5, -72.5, -77.5]

FONT = "Liberation Sans"
SERIF = "Liberation Serif"


def axis_style(ax):
    ax.axis_line_color = "#000000"
    ax.axis_line_width = 1
    ax.major_tick_in = 6
    ax.major_tick_out = 0
    ax.minor_tick_in = 6
    ax.minor_tick_out = 0
    ax.major_tick_line_color = "#000000"
    ax.minor_tick_line_color = "#000000"


def panel(point_sets, width, height, border_right, border_bottom):
    p = figure(width=width, height=height, output_backend="svg", toolbar_location=None,
               x_range=Range1d(-1, 3), y_range=Range1d(-80, -65), tools="",
               min_border_left=97, min_border_right=border_right,
               min_border_top=13, min_border_bottom=border_bottom,
               x_axis_label="α(h)", y_axis_label="δ(°)")
    p.grid.visible = False
    p.outline_line_color = "#000000"
    p.background_fill_color = "#ffffff"
    p.xaxis.ticker = FixedTicker(ticks=x_major, minor_ticks=x_minor)
    p.yaxis.ticker = FixedTicker(ticks=y_major, minor_ticks=y_minor)
    for ax in [p.xaxis[0], p.yaxis[0]]:
        axis_style(ax)
        ax.formatter = NumeralTickFormatter(format="0.0")
        ax.major_label_text_font = FONT
        ax.major_label_text_font_size = "17px"
        ax.major_label_text_color = "#000000"
        ax.axis_label_text_font = SERIF
        ax.axis_label_text_font_size = "18px"
        ax.axis_label_text_font_style = "normal"
        ax.axis_label_text_color = "#000000"
    p.xaxis[0].major_label_standoff = 7
    p.xaxis[0].axis_label_standoff = 5
    p.yaxis[0].major_label_standoff = 9
    p.yaxis[0].axis_label_standoff = 20
    # Mirrored tick marks only, with no major ticks so no labels are drawn
    top = LinearAxis(ticker=FixedTicker(ticks=[], minor_ticks=x_major + x_minor), axis_label=None)
    right = LinearAxis(ticker=FixedTicker(ticks=[], minor_ticks=y_major + y_minor), axis_label=None)
    axis_style(top)
    axis_style(right)
    p.add_layout(top, "above")
    p.add_layout(right, "right")

    for pts, col in contours:
        p.line([a for a, _ in pts], [d for _, d in pts], line_color=col, line_width=1)
    p.quad(left=field_left, right=field_right, top=field_top, bottom=field_bottom,
           fill_color=None, line_color="#000000", line_width=1)
    for pts, col, size in point_sets:
        p.scatter([a for a, _ in pts], [d for _, d in pts], size=size, marker="circle",
                  fill_color=col, line_color=None)
    p.text(label_x, label_y, text=field_names, text_font=value(FONT), text_font_size="17px",
           text_color="#000000", text_align="left", text_baseline="middle")
    return p


brown = (brown_pts, "#b78e8e", 4.5)
grey = (grey_pts + grey_pts_lower + grey_pts_upper, "#d3d3d3", 5)
cyan = (cyan_pts, "#00ffff", 5)

p1 = panel([brown], 816, 632, 131, 164)
p2 = panel([grey], 705, 632, 20, 164)
p3 = panel([cyan], 816, 518, 131, 50)
p4 = panel([brown, grey, cyan], 705, 518, 20, 50)

layout = column(row(p1, p2), row(p3, p4))
open("out.html", "w").write(file_html(layout, INLINE))
